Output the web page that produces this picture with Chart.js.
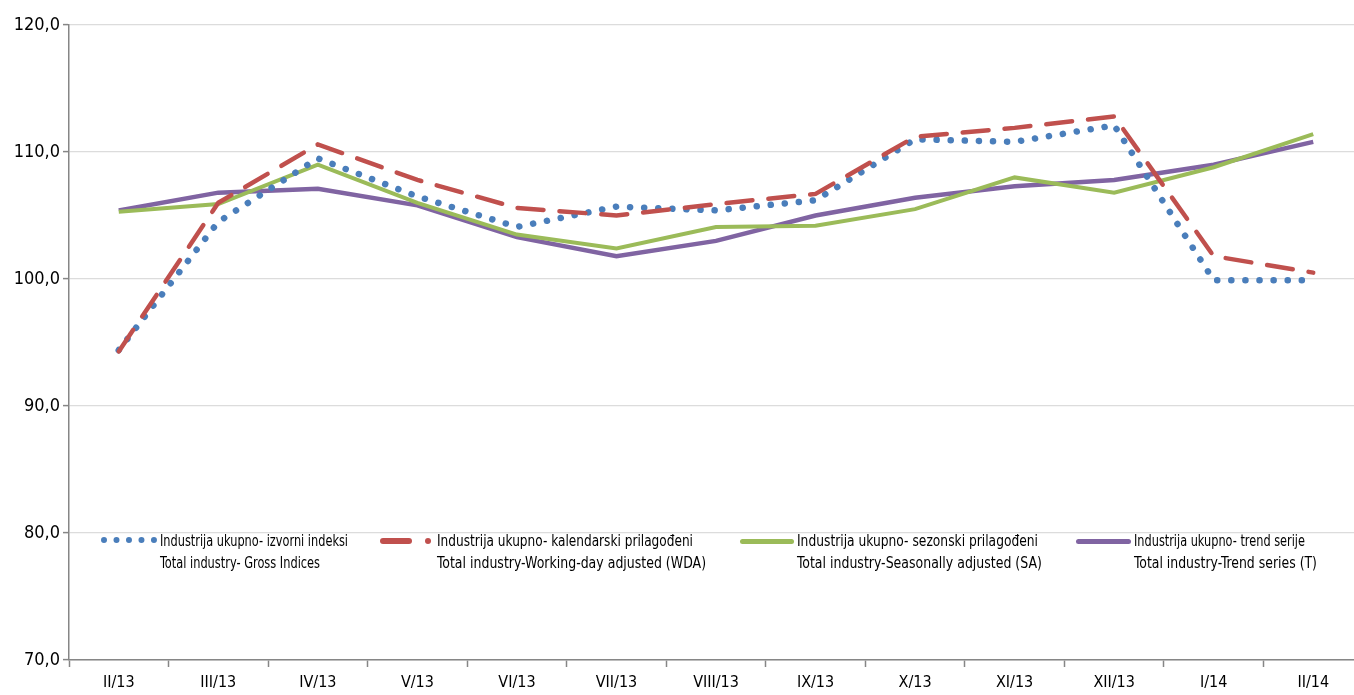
<!DOCTYPE html>
<html>
<head>
<meta charset="utf-8">
<script src="https://cdn.jsdelivr.net/npm/chart.js@4/dist/chart.umd.min.js"></script>
<style>
  body { margin: 0; background: #fff; overflow: hidden; }
  #wrap { position: relative; width: 1363px; height: 695px; }
  .leg { position: absolute; font-family: "Liberation Sans Narrow", "DejaVu Sans Condensed", sans-serif; font-size: 15px; color: #000; line-height: 22px; white-space: nowrap; }
  .leg span { display: block; transform-origin: 0 50%; width: max-content; }
  .mark { position: absolute; }
</style>
</head>
<body>
<div id="wrap">
  <canvas id="chart" width="1363" height="695"></canvas>
</div>
<script>
// podaci
const months = ['II/13', 'III/13', 'IV/13', 'V/13', 'VI/13', 'VII/13', 'VIII/13', 'IX/13', 'X/13', 'XI/13', 'XII/13', 'I/14', 'II/14'];
const grossIdx = [94.4, 104.5, 109.5, 106.5, 104.1, 105.7, 105.4, 106.2, 111.0, 110.8, 112.1, 99.9, 99.9];
const wdaIdx   = [94.3, 106.0, 110.6, 107.8, 105.6, 105.0, 105.9, 106.7, 111.2, 111.9, 112.8, 101.8, 100.5];
const saIdx    = [105.3, 105.9, 109.0, 106.0, 103.5, 102.4, 104.1, 104.2, 105.5, 108.0, 106.8, 108.8, 111.4];
const trendIdx = [105.4, 106.8, 107.1, 105.8, 103.3, 101.8, 103.0, 105.0, 106.4, 107.3, 107.8, 109.0, 110.8];
const yTicks = [70, 80, 90, 100, 110, 120];

// legenda: tekst + ciljna sirina redova (uski font iz originala)
const legendItems = [
    { l1: 'Industrija ukupno- izvorni indeksi', l2: 'Total industry- Gross Indices', x: 160, w: [188, 160] },
    { l1: 'Industrija ukupno- kalendarski prilagođeni', l2: 'Total industry-Working-day adjusted (WDA)', x: 437, w: [256, 269] },
    { l1: 'Industrija ukupno- sezonski prilagođeni', l2: 'Total industry-Seasonally adjusted (SA)', x: 797, w: [241, 245] },
    { l1: 'Industrija ukupno- trend serije', l2: 'Total industry-Trend series (T)', x: 1134, w: [171, 183] }
];

const axisGray = '#868686';
const font = '"Liberation Sans Narrow", "DejaVu Sans Condensed", sans-serif';

function buildLegend() {
    const wrap = document.getElementById('wrap');
    legendItems.forEach(item => {
        const d = document.createElement('div');
        d.className = 'leg';
        d.style.left = item.x + 'px';
        d.style.top = '530px';
        [item.l1, item.l2].forEach((txt, i) => {
            const s = document.createElement('span');
            s.textContent = txt;
            d.appendChild(s);
            wrap.appendChild(d);
            const w = s.getBoundingClientRect().width;
            s.style.transform = 'scaleX(' + (item.w[i] / w).toFixed(3) + ')';
        });
    });
    // oznake linija
    const marks = [
        'left:101px;top:537px;width:56px;border-top:6px dotted #4A7EBB;',
        'left:380px;top:538px;width:32px;height:6px;border-radius:3px;background:#C0504D;',
        'left:425px;top:538px;width:6px;height:6px;border-radius:3px;background:#C0504D;',
        'left:740px;top:539px;width:54px;height:5px;border-radius:3px;background:#9BBB59;',
        'left:1076px;top:539px;width:55px;height:5px;border-radius:3px;background:#8064A2;'
    ];
    marks.forEach(css => {
        const m = document.createElement('div');
        m.className = 'mark';
        m.style.cssText = css;
        wrap.appendChild(m);
    });
}

const ctx = document.getElementById('chart');
new Chart(ctx, {
    type: 'line',
    data: {
        labels: months,
        datasets: [
            {
                label: 'Trend',
                data: trendIdx,
                borderColor: '#8064A2',
                borderWidth: 4.5,
                pointRadius: 0,
                tension: 0,
                order: 4
            },
            {
                label: 'SA',
                data: saIdx,
                borderColor: '#9BBB59',
                borderWidth: 4,
                pointRadius: 0,
                tension: 0,
                order: 3
            },
            {
                label: 'Gross',
                data: grossIdx,
                borderColor: '#4A7EBB',
                borderWidth: 6.5,
                borderDash: [0.1, 14],
                borderCapStyle: 'round',
                pointRadius: 0,
                tension: 0,
                order: 2
            },
            {
                label: 'WDA',
                data: wdaIdx,
                borderColor: '#C0504D',
                borderWidth: 4.5,
                borderDash: [26, 16],
                borderCapStyle: 'round',
                pointRadius: 0,
                tension: 0,
                order: 1
            }
        ]
    },
    options: {
        responsive: false,
        animation: false,
        layout: { padding: { top: 25, right: 0, left: 0, bottom: 0 } },
        plugins: {
            legend: { display: false },
            tooltip: { enabled: false }
        },
        scales: {
            x: {
                offset: true,
                afterFit: s => { s.height = 35; },
                grid: {
                    offset: true,
                    drawOnChartArea: false,
                    drawTicks: true,
                    tickLength: 7,
                    tickColor: axisGray,
                    tickWidth: 1.5
                },
                border: { color: axisGray, width: 1.5 },
                ticks: {
                    color: '#000',
                    font: { family: font, size: 16 },
                    padding: 6,
                    maxRotation: 0,
                    autoSkip: false
                }
            },
            y: {
                min: 70,
                max: 120,
                afterFit: s => { s.width = 69; },
                afterBuildTicks: s => { s.ticks = yTicks.map(v => ({ value: v })); },
                grid: {
                    color: '#DCDCDC',
                    lineWidth: 1.2,
                    drawTicks: true,
                    tickLength: 6,
                    tickColor: axisGray,
                    tickWidth: 1.5
                },
                border: { color: axisGray, width: 1.5 },
                ticks: {
                    color: '#000',
                    font: { family: font, size: 18 },
                    padding: 3,
                    callback: v => v.toFixed(1).replace('.', ',')
                }
            }
        }
    }
});

buildLegend();
</script>
</body>
</html>
